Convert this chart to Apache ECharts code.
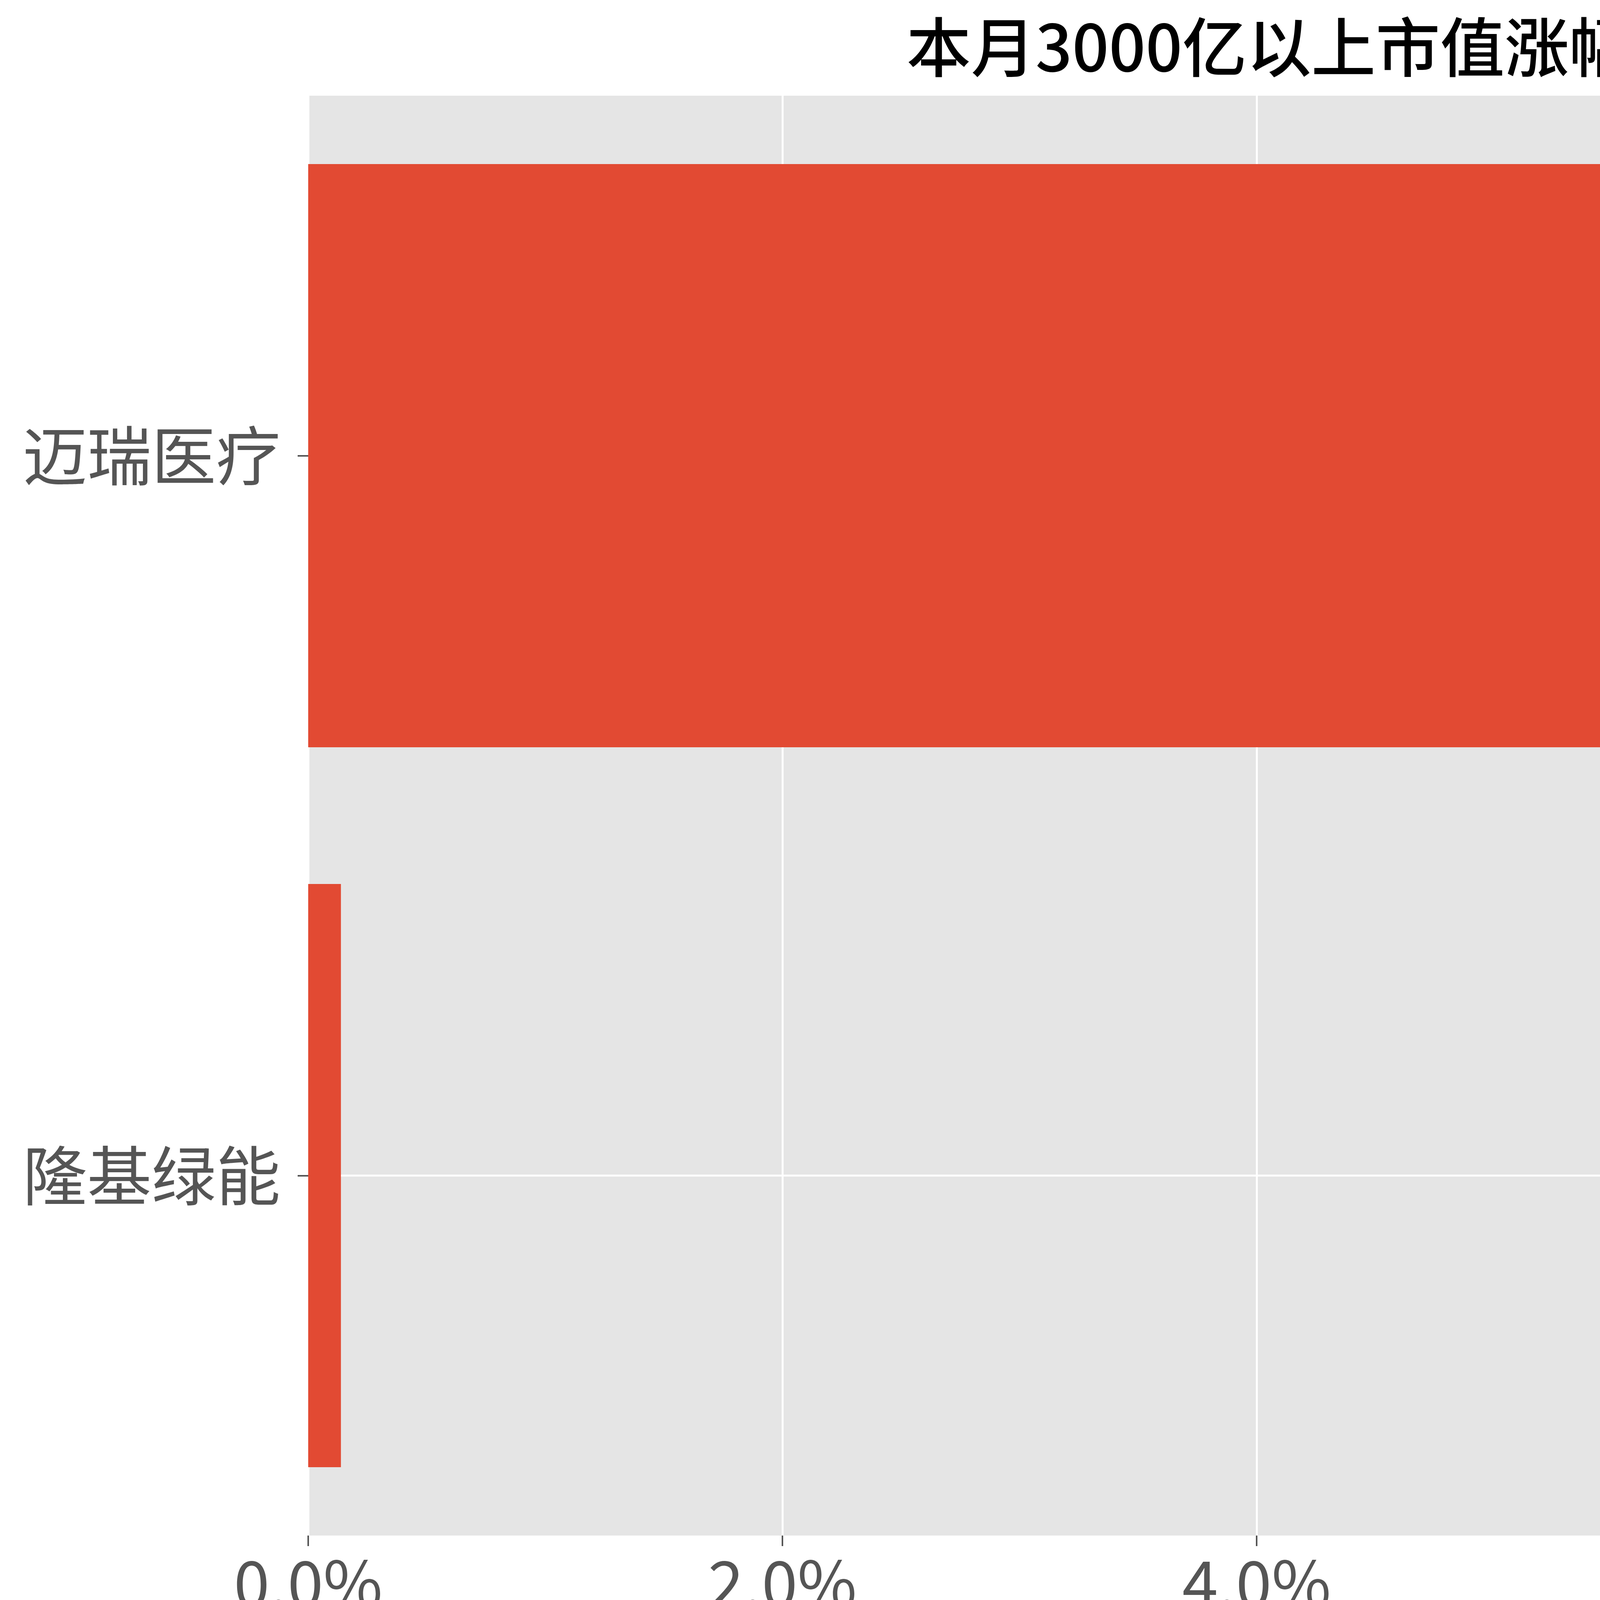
<!DOCTYPE html>
<html>
<head>
<meta charset="utf-8">
<title>本月3000亿以上市值涨幅TOP股票</title>
<script src="https://cdn.jsdelivr.net/npm/echarts@6/dist/echarts.min.js"></script>
<style>
    html, body { margin: 0; padding: 0; background: #fff; }
    #chart { width: 6424px; height: 4316px; }
</style>
</head>
<body>
<div id="chart"></div>
<script>
// 数据 (barh 顺序: 从下往上)
var stockNames = ['隆基绿能', '迈瑞医疗'];
var monthRise = [0.138, 8.746];
var xTicks = [0, 2, 4, 6, 8];
var xMax = 9.18;

var chartTitle = '本月3000亿以上市值涨幅TOP股票';
var xName = '本月涨幅';

var font = '"Noto Sans CJK SC", "Noto Sans", sans-serif';

var chart = echarts.init(document.getElementById('chart'));

var option = {
    backgroundColor: '#ffffff',
    animation: false,
    title: {
        text: chartTitle,
        left: 3575,
        textAlign: 'center',
        top: 33,
        textStyle: {
            fontFamily: font,
            fontSize: 165,
            fontWeight: 500,
            color: '#000000'
        }
    },
    grid: {
        left: 789,
        right: 63,
        top: 245,
        bottom: 385,
        show: true,
        backgroundColor: '#e5e5e5',
        borderWidth: 0
    },
    xAxis: {
        type: 'value',
        min: 0,
        max: xMax,
        interval: 2,
        name: xName,
        nameLocation: 'middle',
        nameGap: 225,
        nameTextStyle: {
            fontFamily: font,
            fontSize: 98,
            color: '#555555'
        },
        axisLine: { show: false },
        axisTick: {
            show: true,
            length: 27,
            customValues: xTicks,
            lineStyle: { color: '#555555', width: 4 }
        },
        axisLabel: {
            margin: 40,
            fontFamily: font,
            fontSize: 165,
            color: '#555555',
            customValues: xTicks,
            formatter: function (v) {
                return v.toFixed(1) + '%';
            }
        },
        splitLine: {
            show: true,
            lineStyle: { color: '#ffffff', width: 5 }
        }
    },
    yAxis: {
        type: 'category',
        data: stockNames,
        axisLine: { show: false },
        axisTick: {
            show: true,
            alignWithLabel: true,
            length: 27,
            lineStyle: { color: '#555555', width: 4 }
        },
        axisLabel: {
            margin: 71,
            fontFamily: font,
            fontSize: 165,
            color: '#555555'
        },
        splitLine: {
            show: true,
            alignWithLabel: true,
            lineStyle: { color: '#ffffff', width: 5 }
        }
    },
    series: [{
        type: 'bar',
        data: monthRise,
        barWidth: '81%',
        itemStyle: { color: '#E24A33' }
    }]
};

chart.setOption(option);
</script>
</body>
</html>
